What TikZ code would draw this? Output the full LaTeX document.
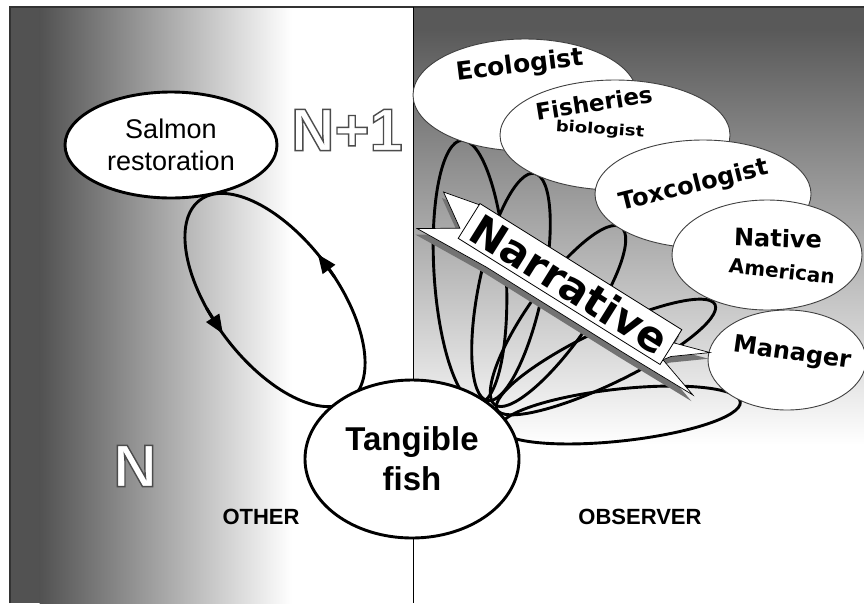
\documentclass[tikz,border=0pt]{standalone}
\usepackage{fontspec}
\setmainfont{Liberation Sans}
\newfontfamily\dvs{DejaVu Sans}
\usetikzlibrary{shapes.geometric,arrows.meta}
\newcommand\outlinetext[1]{{\color{white}\special{pdf:literal direct 2 Tr 1.4 w 0.3 0.3 0.3 RG}#1\special{pdf:literal direct 0 Tr}}}
\begin{document}
\begin{tikzpicture}[x=1pt,y=-1pt,
  bigell/.style={ellipse, draw=black, line width=2.9pt, fill=white, inner sep=0pt},
  roleell/.style={ellipse, draw=black!75, line width=0.9pt, fill=white, inner sep=0pt},
  loopline/.style={draw=black, line width=2.9pt},
  rolefont/.style={font=\dvs\bfseries\fontsize{#1}{#1}\selectfont, inner sep=0pt},
  sidelabel/.style={font=\bfseries\fontsize{22}{22}\selectfont, inner sep=0pt},
  outlined/.style={font=\bfseries\fontsize{60}{60}\selectfont, inner sep=0pt},
  narrshape/.style={draw=black, line width=0.7pt, fill=white},
  narrlabel/.style={draw=black, line width=0.8pt, fill=white, inner sep=0pt,
    minimum width=238pt, minimum height=41pt, font=\dvs\bfseries\fontsize{42}{42}\selectfont},
  tip/.style={-{Triangle[length=19pt,width=15pt]}}
]
\useasboundingbox (0,0) rectangle (864,603);
\fill[white] (0,0) rectangle (864,603);
% backgrounds
\fill[black!68] (10,7) rectangle (40,603);
\shade[left color=black!68, right color=white] (39.5,7) rectangle (292,603);
\fill[black!65] (413,7) rectangle (864,30);
\shade[top color=black!65, bottom color=white] (413,29.5) rectangle (864,445);
% frame and divider
\draw[black!80, line width=1.2pt] (10,603) -- (10,7) -- (864,7);
\draw[black, line width=1pt] (413,7) -- (413,603);

% loops on the observer side
\draw[loopline, rotate around={93.5:(470,272)}] (470,272) ellipse [x radius=132pt, y radius=36pt];
\draw[loopline, rotate around={78.2:(511,287)}] (511,287) ellipse [x radius=116pt, y radius=32pt];
\draw[loopline, rotate around={54.6:(558,316)}] (558,316) ellipse [x radius=109pt, y radius=30pt];
\draw[loopline, rotate around={25.7:(606,357)}] (606,357) ellipse [x radius=121pt, y radius=27pt];
\draw[loopline, rotate around={6.2:(620,415)}] (620,415) ellipse [x radius=121pt, y radius=26pt];

% observer ellipses
\node[roleell, minimum width=224pt, minimum height=112pt] (eco) at (525,95) {};
\node[rolefont=25, rotate=7] (teco) at (520,66) {Ecologist};
\node[roleell, minimum width=230pt, minimum height=110pt] (fisb) at (615,135) {};
\node[rolefont=23, rotate=9] (tfis) at (594,103) {Fisheries};
\node[rolefont=19, rotate=-4] (tbio) at (600,130) {\scalebox{0.95}[0.8]{biologist}};
\node[roleell, minimum width=216pt, minimum height=108pt] (tox) at (703,194) {};
\node[rolefont=24, rotate=14] (ttox) at (694,186) {Toxcologist};
\node[roleell, minimum width=190pt, minimum height=110pt] (nat) at (767,255) {};
\node[rolefont=24, rotate=-2] (tnat) at (778,238) {Native};
\node[rolefont=20, rotate=-6] (tame) at (782,271) {American};
\node[roleell, minimum width=158pt, minimum height=100pt] (man) at (787,360) {};
\node[rolefont=24, rotate=-8] (tman) at (792,354) {Manager};

% narrative arrow
\begin{scope}[shift={(570,284)}, rotate=-32]
  \begin{scope}[shift={(2pt,-6pt)}]
    \fill[black!55] (-156pt,11pt) -- (-115pt,20pt) -- (118pt,20pt) -- (119pt,5pt) -- (155pt,16pt) -- (124pt,-8pt) -- (119pt,-15pt) -- (163pt,-29pt) -- (80pt,-30pt) -- (-80pt,-30pt) -- (-159pt,-34pt) -- (-123pt,-11pt) -- cycle;
  \end{scope}
  \draw[narrshape] (-156pt,11pt) -- (-115pt,20pt) -- (118pt,20pt) -- (119pt,5pt) -- (155pt,16pt) -- (124pt,-8pt) -- (119pt,-15pt) -- (163pt,-29pt) -- (80pt,-30pt) -- (-80pt,-30pt) -- (-159pt,-34pt) -- (-123pt,-11pt) -- cycle;
\end{scope}
\node[narrlabel, rotate=-32] (narr) at (570,284) {Narrative};

% loop between salmon restoration and tangible fish
\begin{scope}[shift={(275,300)}, rotate=-53]
  \draw[loopline] (0,0) ellipse [x radius=125pt, y radius=62pt];
  \draw[line width=2.9pt, tip] ({125pt*cos(82)},{62pt*sin(82)}) -- ({125pt*cos(95)},{62pt*sin(95)});
  \draw[line width=2.9pt, tip] ({125pt*cos(254)},{62pt*sin(254)}) -- ({125pt*cos(268)},{62pt*sin(268)});
\end{scope}

\node[bigell, minimum width=212pt, minimum height=106pt, align=center,
  font=\fontsize{27}{32}\selectfont] (salmon) at (171,145) {Salmon\\restoration};
\node[bigell, minimum width=214pt, minimum height=158pt, align=center,
  font=\bfseries\fontsize{33}{40}\selectfont] (fish) at (412,459) {Tangible\\fish};

% level labels
\node[outlined] (np1) at (347,130) {\outlinetext{N+1}};
\node[outlined] (n0) at (135,466) {\outlinetext{N}};
\node[sidelabel] (other) at (261,517) {OTHER};
\node[sidelabel] (observer) at (640,517) {OBSERVER};
\end{tikzpicture}
\end{document}
